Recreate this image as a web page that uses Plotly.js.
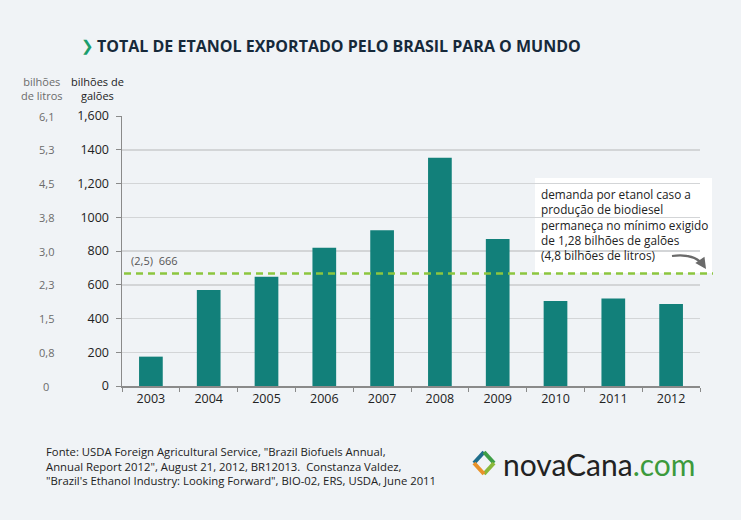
<!DOCTYPE html>
<html>
<head>
<meta charset="utf-8">
<script src="https://cdn.plot.ly/plotly-3.0.1.min.js"></script>
<style>
html,body{margin:0;padding:0;background:#f0f3f6;}
#chart{width:741px;height:520px;}
</style>
</head>
<body>
<div id="chart"></div>
<script>
var years = ['2003','2004','2005','2006','2007','2008','2009','2010','2011','2012'];
var exports = [174, 569, 648, 820, 923, 1353, 871, 504, 518, 486];
var galTickVals = [0, 200, 400, 600, 800, 1000, 1200, 1400, 1600];
var galTickText = ['0', '200', '400', '600', '800', '1000', '1,200', '1400', '1,600'];
var litrosText = ['0', '0,8', '1,5', '2,3', '3,0', '3,8', '4,5', '5,3', '6,1'];
var minDemand = 666;
var minDemandLabel = '(2,5)  666';

var L = 122, R = 700, T = 116, B = 386, W = 741, H = 520;
function px(x){ return (x - L) / (R - L); }
function py(y){ return (B - y) / (B - T); }

var FONT = 'Open Sans, Noto Sans, sans-serif';

var annotations = [];
for (var i = 0; i < galTickVals.length; i++) {
  annotations.push({
    xref: 'paper', yref: 'y', x: px(46), y: galTickVals[i],
    text: litrosText[i], showarrow: false, xanchor: 'center', yanchor: 'middle',
    font: {family: FONT, size: 11, color: '#6b6b6b'}
  });
}
annotations.push(
  {xref:'paper', yref:'paper', x: px(42), y: py(89), text:'bilhões<br>de litros', showarrow:false,
   xanchor:'center', yanchor:'middle', align:'center', font:{family:FONT, size:11, color:'#6b6b6b'}},
  {xref:'paper', yref:'paper', x: px(97), y: py(89), text:'bilhões de<br>galões', showarrow:false,
   xanchor:'center', yanchor:'middle', align:'center', font:{family:FONT, size:11, color:'#222'}},
  {xref:'paper', yref:'paper', x: px(79), y: py(46), text:'❯', showarrow:false,
   xanchor:'left', yanchor:'middle', font:{family:'DejaVu Sans, sans-serif', size:15, color:'#1a9e6c'}},
  {xref:'paper', yref:'paper', x: px(95), y: py(46), text:'<b>TOTAL DE ETANOL EXPORTADO PELO BRASIL PARA O MUNDO</b>', showarrow:false,
   xanchor:'left', yanchor:'middle', font:{family:FONT, size:16, color:'#16293a'}},
  {xref:'paper', yref:'y', x: px(129), y: minDemand, yshift: 13, text: minDemandLabel, showarrow:false,
   xanchor:'left', yanchor:'middle', font:{family:FONT, size:11, color:'#555'}},
  {xref:'paper', yref:'paper', x: px(539), y: py(224), text:'demanda por etanol caso a<br>produção de biodiesel<br>permaneça no mínimo exigido<br>de 1,28 bilhões de galões<br>(4,8 bilhões de litros)',
   showarrow:false, xanchor:'left', yanchor:'middle', align:'left',
   font:{family:FONT, size:11.8, color:'#222'}},
  {xref:'paper', yref:'paper', x: px(44), y: py(466), text:'Fonte: USDA Foreign Agricultural Service, "Brazil Biofuels Annual,<br>Annual Report 2012", August 21, 2012, BR12013.  Constanza Valdez,<br>"Brazil\'s Ethanol Industry: Looking Forward", BIO-02, ERS, USDA, June 2011',
   showarrow:false, xanchor:'left', yanchor:'middle', align:'left',
   font:{family:FONT, size:11.3, color:'#222'}},
  {xref:'paper', yref:'paper', x: px(501), y: py(464), text:'novaCana<span style="color:#3c9a3c">.com</span>', showarrow:false,
   xanchor:'left', yanchor:'middle', font:{family:'Lato, sans-serif', size:30, color:'#222'}}
);
// arrow head at the end of the curved pointer
annotations.push({xref:'paper', yref:'paper', x: px(706), y: py(269), ax: px(702), ay: py(263),
  axref:'paper', ayref:'paper', text:'', showarrow:true, arrowhead:2, arrowsize:1, arrowwidth:2.2, arrowcolor:'#6a6a6a'});

var shapes = [
  {type:'rect', xref:'paper', yref:'paper', x0:px(535), x1:px(712), y0:py(273), y1:py(178), fillcolor:'#ffffff', line:{width:0}, layer:'below'},
  {type:'line', xref:'paper', yref:'y', x0:px(124), x1:px(713), y0:minDemand, y1:minDemand, line:{color:'#8cc63f', width:2.5, dash:'7px,5px'}},
  {type:'path', xref:'paper', yref:'paper',
   path:'M '+px(672)+' '+py(256)+' Q '+px(695)+' '+py(253)+' '+px(704)+' '+py(266),
   line:{color:'#6a6a6a', width:2.2}},
  // logo diamond
  {type:'line', xref:'paper', yref:'paper', x0:px(474), y0:py(463), x1:px(484), y1:py(452), line:{color:'#1f6e8c', width:4}},
  {type:'line', xref:'paper', yref:'paper', x0:px(484), y0:py(452), x1:px(494), y1:py(463), line:{color:'#3e9e46', width:4}},
  {type:'line', xref:'paper', yref:'paper', x0:px(494), y0:py(463), x1:px(484), y1:py(474), line:{color:'#8ab83a', width:4}},
  {type:'line', xref:'paper', yref:'paper', x0:px(484), y0:py(474), x1:px(474), y1:py(463), line:{color:'#e8922a', width:4}}
];

var data = [{
  type:'bar', x: years, y: exports,
  marker:{color:'#12807a', line:{width:0}},
  hoverinfo:'x+y'
}];

var layout = {
  width: W, height: H,
  paper_bgcolor:'#f0f3f6', plot_bgcolor:'#f0f3f6',
  margin:{l:L, r:W-R, t:T, b:H-B, pad:0},
  showlegend:false,
  bargap:0.59,
  xaxis:{
    type:'category', showgrid:false, showline:true, linecolor:'#8a8a8a', linewidth:1.5,
    ticks:'outside', tickson:'boundaries', ticklen:4, tickcolor:'#8a8a8a',
    tickfont:{family:FONT, size:12.5, color:'#222'}, fixedrange:true
  },
  yaxis:{
    range:[0,1600], tickvals: galTickVals, ticktext: galTickText,
    showgrid:true, gridcolor:'#d3d5d7', gridwidth:1.5, zeroline:false,
    showline:true, linecolor:'#8a8a8a', linewidth:1.5,
    ticks:'outside', ticklen:5, tickcolor:'#8a8a8a', ticklabelstandoff:4,
    tickfont:{family:FONT, size:12.5, color:'#222'}, fixedrange:true
  },
  annotations: annotations,
  shapes: shapes
};

Plotly.newPlot('chart', data, layout, {displayModeBar:false, staticPlot:true});
</script>
</body>
</html>
